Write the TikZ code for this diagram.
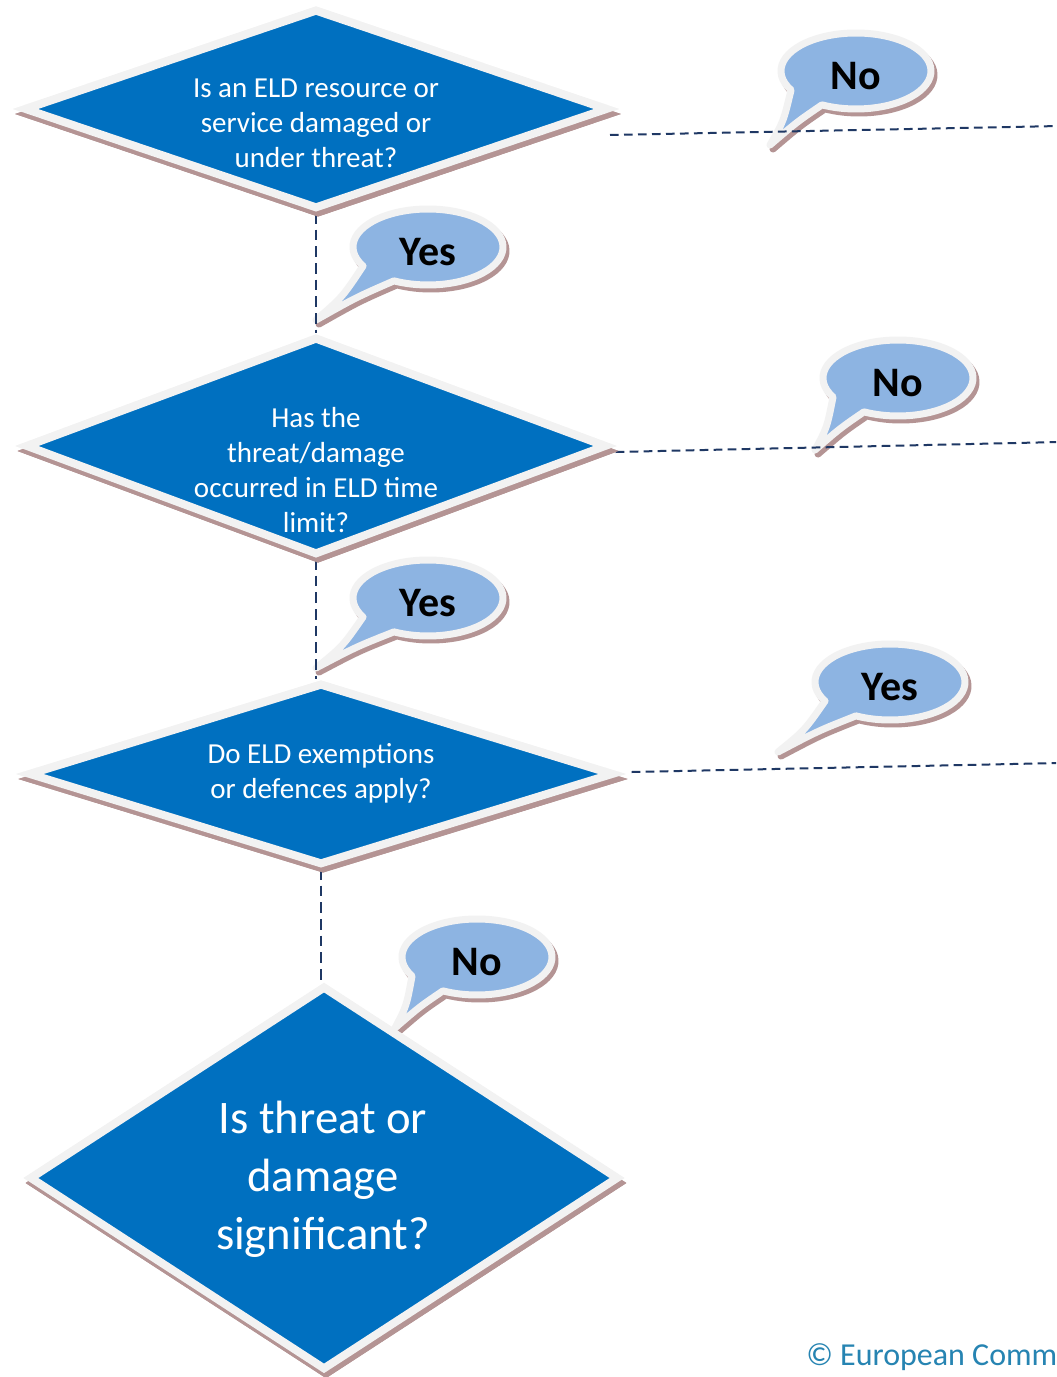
\documentclass[tikz,border=0pt]{standalone}
\usepackage{fontspec}
\setmainfont{Carlito}
\usetikzlibrary{shapes.geometric,calc}

\definecolor{diablue}{RGB}{0,112,192}
\definecolor{bubblue}{RGB}{141,180,226}
\definecolor{bordergray}{RGB}{242,242,242}
\definecolor{shadowc}{RGB}{180,148,148}
\definecolor{linenavy}{RGB}{31,56,100}
\definecolor{copyc}{RGB}{38,132,178}

% speech bubble: name, centre, pointer tip, label
\newcommand\speechbubble[4]{%
  \coordinate (#1) at (#2);
  \coordinate (#1-l) at ($(#1)+(150:75 and 38)$);
  \coordinate (#1-r) at ($(#1)+(117:75 and 38)$);
  \coordinate (#1-tip) at (#3);
  \coordinate (#1-cr) at ($(#1-r)!0.5!(#1-tip)+(1,-3)$);
  \coordinate (#1-cl) at ($(#1-l)!0.5!(#1-tip)+(3,4)$);
  \path[bubshade] (#1-l) arc[start angle=150, end angle=477, x radius=75, y radius=38]
    .. controls (#1-cr) .. (#1-tip) .. controls (#1-cl) .. (#1-l) -- cycle;
  \path[bubface] (#1-l) arc[start angle=150, end angle=477, x radius=75, y radius=38]
    .. controls (#1-cr) .. (#1-tip) .. controls (#1-cl) .. (#1-l) -- cycle;
  \node[bubtext] (#1-t) at ($(#1)+(0,5)$) {#4};
}

\begin{document}
\begin{tikzpicture}[x=0.75pt, y=-0.75pt,
  decision/.style={shape=diamond, draw=bordergray, fill=diablue,
    line width=6pt, inner sep=0pt, line join=miter,
    preaction={draw=shadowc, fill=shadowc, transform canvas={shift={(2,5)}}}},
  dtext/.style={text=white, align=center, inner sep=0pt,
    font=\fontsize{21.75}{26.25}\selectfont},
  bigtext/.style={text=white, align=center, inner sep=0pt,
    font=\fontsize{35}{43.5}\selectfont},
  bubface/.style={fill=bubblue, draw=bordergray, line width=5.25pt, line join=round},
  bubshade/.style={fill=shadowc, draw=shadowc, line width=5.25pt, line join=round,
    transform canvas={shift={(3,4)}}},
  bubtext/.style={inner sep=0pt, text=black,
    font=\fontsize{31.5}{36}\selectfont\bfseries},
  flow/.style={draw=linenavy, line width=1.5pt, dash pattern=on 6.5pt off 4pt},
  vflow/.style={draw=linenavy, line width=1.1pt, dash pattern=on 8pt off 4.5pt},
  dia1/.style={decision, minimum width=438pt, minimum height=150pt},
  dia2/.style={decision, minimum width=436pt, minimum height=163.5pt},
  dia3/.style={decision, minimum width=439pt, minimum height=136.5pt},
  dia4/.style={decision, minimum width=442pt, minimum height=288pt}
]
\useasboundingbox (0,0) rectangle (1056,1377);
\clip (0,0) rectangle (1056,1377);
\fill[white] (0,0) rectangle (1056,1377);

% answer bubbles
\speechbubble{b1}{856,71}{770,145}{No}
\speechbubble{b2}{428,247}{316,320}{Yes}
\speechbubble{b3}{898,378}{815,450}{No}
\speechbubble{b4}{428,598}{316,668}{Yes}
\speechbubble{b5}{890,682}{778,752}{Yes}
\speechbubble{b6}{477,957}{395,1028}{No}

% decision shapes (placed first so connectors can refer to them)
\path (316,109) node[dia1] (d1) {};
\path (316,446) node[dia2] (d2) {};
\path (321,774) node[dia3] (d3) {};
\path (324,1178) node[dia4] (d4) {};

% loose ends on the right
\coordinate (e1) at (1060,126);
\coordinate (e2) at (1060,442);
\coordinate (e3) at (1060,763);

% connectors
\draw[vflow] (d1.south) -- (d1.south |- d2.north);
\draw[vflow] (d2.south) -- (d2.south |- d3.north);
\draw[vflow] (d3.south) -- (d3.south |- d4.north);
\draw[flow] ([shift={(-2,26)}]d1.east) -- (e1);
\draw[flow] ([shift={(5,6)}]d2.east) -- (e2);
\draw[flow] ([shift={(14,-2)}]d3.east) -- (e3);

% decision shapes drawn over the connector ends
\path (316,109) node[dia1] {};
\path (316,446) node[dia2] {};
\path (321,774) node[dia3] {};
\path (324,1178) node[dia4] {};

% questions
\node[dtext] (t1) at (316,123) {Is an ELD resource or\\service damaged or\\under threat?};
\node[dtext] (t2) at (316,470) {Has the\\threat/damage\\occurred in ELD time\\limit?};
\node[dtext] (t3) at (321,773) {Do ELD exemptions\\or defences apply?};
\node[bigtext] (t4) at (323,1179) {Is threat or\\damage\\significant?};

% credit line
\node[anchor=west, inner sep=0pt, text=copyc, font=\fontsize{24}{29}\selectfont]
  (credit) at (806,1357) {© European Comm};
\end{tikzpicture}
\end{document}
